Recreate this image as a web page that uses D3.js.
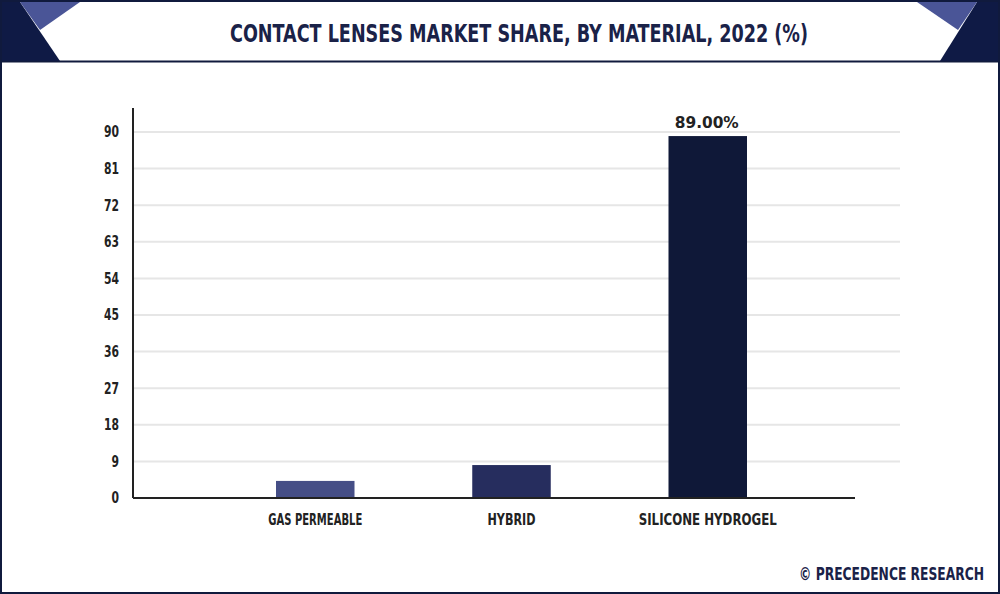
<!DOCTYPE html>
<html>
<head>
<script src="https://d3js.org/d3.v7.min.js"></script>
<style>
body { margin: 0; background: #fff; }
text { font-family: "DejaVu Sans", sans-serif; font-stretch: condensed; font-weight: bold; }
</style>
</head>
<body>
<svg id="chart" width="1000" height="594"></svg>
<script>
const categories = ["GAS PERMEABLE", "HYBRID", "SILICONE HYDROGEL"];
const values = [4.2, 8.1, 89];
const barColors = ["#454e86", "#262d5e", "#0f1838"];
const yTicks = [0, 9, 18, 27, 36, 45, 54, 63, 72, 81, 90];

const svg = d3.select("#chart");
const navy = "#101a3d";

// fit text to a width (the reference uses a condensed face)
function squeeze(sel, w) {
    sel.attr("textLength", w).attr("lengthAdjust", "spacingAndGlyphs");
}

svg.append("rect").attr("x", 1).attr("y", 1).attr("width", 998).attr("height", 592)
    .attr("fill", "#fff").attr("stroke", navy).attr("stroke-width", 2);
svg.append("line").attr("x1", 0).attr("x2", 1000).attr("y1", 61.5).attr("y2", 61.5)
    .attr("stroke", navy).attr("stroke-width", 2);
svg.append("polygon").attr("points", "2,2 20,2 60,61 2,61").attr("fill", "#0f1a45");
svg.append("polygon").attr("points", "20,2 80,2 40,30").attr("fill", "#4a5597");
svg.append("polygon").attr("points", "977,2 998,2 998,61 940,61").attr("fill", "#0f1a45");
svg.append("polygon").attr("points", "917,2 977,2 958,30").attr("fill", "#4a5597");
svg.append("text").attr("x", 230).attr("y", 42)
    .attr("font-size", 25).attr("fill", "#1a2248")
    .text("CONTACT LENSES MARKET SHARE, BY MATERIAL, 2022 (%)")
    .call(squeeze, 578);

const x = d3.scaleBand().domain(categories).range([276, 747]).paddingInner(0.6).paddingOuter(0);
const y = d3.scaleLinear().domain([0, 90]).range([498, 132]);

const g = svg.append("g");
g.selectAll(".grid").data(yTicks.slice(1)).enter().append("line")
    .attr("x1", 133).attr("x2", 900).attr("y1", d => y(d)).attr("y2", d => y(d))
    .attr("stroke", "#e6e6e6").attr("stroke-width", 2);

g.selectAll(".bar").data(categories).enter().append("rect")
    .attr("x", d => x(d)).attr("width", x.bandwidth())
    .attr("y", (d, i) => y(values[i])).attr("height", (d, i) => y(0) - y(values[i]))
    .attr("fill", (d, i) => barColors[i]);

g.append("text").attr("x", x(categories[2]) + x.bandwidth() / 2 - 33).attr("y", y(values[2]) - 8)
    .attr("font-size", 16).attr("fill", "#222")
    .text(values[2].toFixed(2) + "%").call(squeeze, 64);

const yAxis = g.append("g").attr("transform", "translate(133,0)")
    .call(d3.axisLeft(y).tickValues(yTicks).tickSize(0).tickPadding(14));
yAxis.select(".domain").remove();
yAxis.selectAll("text").attr("font-size", 15).attr("fill", "#222")
    .each(function (d) { d3.select(this).call(squeeze, String(d).length * 7.5); });
g.append("line").attr("x1", 133).attr("x2", 133).attr("y1", 108).attr("y2", 498)
    .attr("stroke", "#222").attr("stroke-width", 2);

const labelW = { "GAS PERMEABLE": 94, "HYBRID": 48, "SILICONE HYDROGEL": 138 };
const xAxis = g.append("g").attr("transform", "translate(0,498)")
    .call(d3.axisBottom(x).tickSize(0).tickPadding(16));
xAxis.select(".domain").remove();
xAxis.selectAll("text").attr("font-size", 15).attr("fill", "#222")
    .each(function (d) {
        d3.select(this).attr("text-anchor", "start").attr("x", -labelW[d] / 2).call(squeeze, labelW[d]);
    });
g.append("line").attr("x1", 133).attr("x2", 855).attr("y1", 498).attr("y2", 498)
    .attr("stroke", "#222").attr("stroke-width", 2);

// footer: scaled rather than textLength so its box stays inside the frame
svg.append("text").attr("transform", "translate(984,580) scale(0.76,1)")
    .attr("text-anchor", "end")
    .attr("font-size", 18).attr("fill", "#1a2248")
    .text("© PRECEDENCE RESEARCH");
</script>
</body>
</html>
